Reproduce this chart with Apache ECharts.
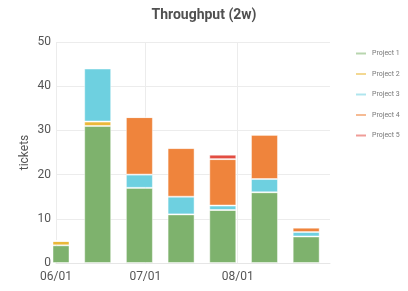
<!DOCTYPE html>
<html>
<head>
<meta charset="utf-8">
<script src="https://cdn.jsdelivr.net/npm/echarts@6/dist/echarts.min.js"></script>
<style>html,body{margin:0;padding:0;background:#fff;}#c{width:408px;height:291px;}</style>
</head>
<body>
<div id="c"></div>
<script>
const dates = ['06/01','06/15','06/29','07/13','07/27','08/10','08/24'];
const project1 = [4, 31, 17, 11, 12, 16, 6];
const project2 = [1, 1, 0, 0, 0, 0, 0];
const project3 = [0, 12, 3, 4, 1, 3, 1];
const project4 = [0, 0, 13, 11, 10.5, 10, 1];
const project5 = [0, 0, 0, 0, 1, 0, 0];
const seriesNames = ['Project 1','Project 2','Project 3','Project 4','Project 5'];
const colors = ['#7eb26d','#eab839','#6ed0e0','#ef843c','#e24d42'];
const xLabels = ['06/01','07/01','08/01'];
const axisStart = [2021, 6, 1];
const axisEnd = [2021, 9, 1];
const yTicks = [0, 10, 20, 30, 40, 50];

// daily categories spanning the time axis
const days = [];
for (let t = Date.UTC(axisStart[0], axisStart[1]-1, axisStart[2]); t <= Date.UTC(axisEnd[0], axisEnd[1]-1, axisEnd[2]); t += 86400000) {
  const d = new Date(t);
  days.push(String(d.getUTCMonth()+1).padStart(2,'0') + '/' + String(d.getUTCDate()).padStart(2,'0'));
}
const showTick = (i, v) => xLabels.indexOf(v) >= 0;

const allData = [project1, project2, project3, project4, project5];
const chart = echarts.init(document.getElementById('c'));
chart.setOption({
  animation: false,
  title: {
    text: 'Throughput (2w)', left: 'center', top: 3,
    textStyle: {fontFamily: 'Roboto', fontWeight: 'bold', fontSize: 14, color: '#505050'}
  },
  legend: {
    orient: 'vertical', left: 350, top: 45, itemGap: 13.5,
    icon: 'rect', itemWidth: 10, itemHeight: 2,
    textStyle: {fontFamily: 'Roboto', fontSize: 7, color: '#777', padding: [0,0,0,1]},
    data: seriesNames
  },
  grid: {left: 56, right: 78, top: 42, bottom: 28},
  xAxis: {
    type: 'category', data: days, boundaryGap: false,
    axisLine: {show: true, lineStyle: {color: '#e6e6e6'}},
    axisTick: {show: false},
    splitLine: {show: true, interval: showTick, lineStyle: {color: '#ececec'}},
    axisLabel: {
      interval: showTick,
      fontFamily: 'Roboto', fontSize: 12, color: '#555', margin: 8
    }
  },
  yAxis: {
    type: 'value', min: yTicks[0], max: yTicks[yTicks.length-1], interval: 10,
    name: 'tickets', nameLocation: 'middle', nameGap: 25, nameMoveOverlap: false,
    nameTextStyle: {fontFamily: 'Roboto', fontSize: 12, color: '#555'},
    axisLine: {show: false}, axisTick: {show: false},
    splitLine: {lineStyle: {color: '#ececec'}},
    axisLabel: {fontFamily: 'Roboto', fontSize: 12, color: '#555', margin: 5}
  },
  series: seriesNames.map((n, i) => ({
    name: n, type: 'bar', stack: 'all', barWidth: 27, clip: true,
    itemStyle: {color: colors[i], borderColor: 'rgba(255,255,255,0.45)', borderWidth: 1},
    data: days.map(day => { const j = dates.indexOf(day); return j >= 0 ? allData[i][j] : '-'; })
  }))
});
</script>
</body>
</html>
